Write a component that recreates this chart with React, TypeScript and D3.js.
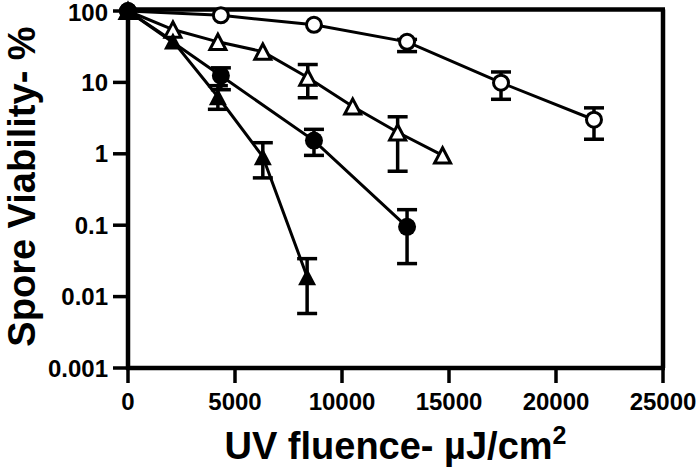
import React from "react";
import * as d3 from "d3";

// ---- data ----
const xTicks = [0, 5000, 10000, 15000, 20000, 25000];
const yTicks = [0.001, 0.01, 0.1, 1, 10, 100];
const yTickLabels = ["0.001", "0.01", "0.1", "1", "10", "100"];

const openCircleX = [0, 4340, 8690, 13040, 17430, 21775];
const openCircleY = [100, 87, 64, 37, 9.9, 3.0];
const openCircleLo = [null, null, null, 27, 5.8, 1.6];
const openCircleHi = [null, null, null, 40, 14, 4.4];

const filledCircleX = [0, 4340, 8690, 13040];
const filledCircleY = [100, 12.4, 1.53, 0.095];
const filledCircleLo = [null, 7.9, 0.95, 0.029];
const filledCircleHi = [null, 16, 2.2, 0.165];

const openTriX = [0, 2100, 4200, 6300, 8400, 10500, 12600, 14700];
const openTriY = [100, 55, 37, 27, 11.7, 4.6, 2.0, 0.95];
const openTriLo = [null, null, null, null, 6.1, null, 0.57, null];
const openTriHi = [null, null, null, null, 17.8, null, 3.3, null];

const filledTriX = [0, 2100, 4200, 6300, 8370];
const filledTriY = [100, 38, 6.3, 0.91, 0.019];
const filledTriLo = [null, null, 4.2, 0.46, 0.0058];
const filledTriHi = [null, null, 9, 1.43, 0.034];

type Series = {
  x: number[];
  y: number[];
  lo: (number | null)[];
  hi: (number | null)[];
  shape: "circle" | "triangle";
  filled: boolean;
};

const series: Series[] = [
  { x: openCircleX, y: openCircleY, lo: openCircleLo, hi: openCircleHi, shape: "circle", filled: false },
  { x: openTriX, y: openTriY, lo: openTriLo, hi: openTriHi, shape: "triangle", filled: false },
  { x: filledTriX, y: filledTriY, lo: filledTriLo, hi: filledTriHi, shape: "triangle", filled: true },
  { x: filledCircleX, y: filledCircleY, lo: filledCircleLo, hi: filledCircleHi, shape: "circle", filled: true },
];

const W = 700;
const H = 475;
const FONT = "'Liberation Sans', Arial, Helvetica, sans-serif";

export default function App() {
  const x = d3.scaleLinear().domain([0, 25000]).range([128, 663]);
  const y = d3.scaleLog().domain([0.001, 100]).range([368, 11]);
  const line = d3
    .line<[number, number]>()
    .x((d) => x(d[0]))
    .y((d) => y(d[1]));

  const triPath = (cx: number, cy: number, s: number) => {
    const h = s * 0.95;
    return `M${cx},${cy - h / 2}L${cx + s / 2},${cy + h / 2}L${cx - s / 2},${cy + h / 2}Z`;
  };

  return (
    <svg width={W} height={H} style={{ position: "absolute", left: 0, top: 0, background: "#fff" }}>
      {/* frame top & right */}
      <line x1={x(0)} x2={x(25000) + 2} y1={9.5} y2={9.5} stroke="#000" strokeWidth={4.5} />
      <line x1={x(25000)} x2={x(25000)} y1={9.5} y2={y(0.001)} stroke="#000" strokeWidth={4.5} />
      {/* axes */}
      <line x1={x(0)} x2={x(0)} y1={7.5} y2={y(0.001) + 2} stroke="#000" strokeWidth={4.5} />
      <line x1={x(0) - 2} x2={x(25000) + 2} y1={y(0.001)} y2={y(0.001)} stroke="#000" strokeWidth={4.5} />
      {/* y ticks */}
      {yTicks.map((t, i) => (
        <g key={"yt" + i}>
          <line x1={x(0) - 15} x2={x(0)} y1={y(t)} y2={y(t)} stroke="#000" strokeWidth={3.5} />
          <text
            x={108}
            y={Math.max(y(t) + 8.5, 21)}
            textAnchor="end"
            fontFamily={FONT}
            fontWeight="bold"
            fontSize={24}
          >
            {yTickLabels[i]}
          </text>
        </g>
      ))}
      {/* x ticks */}
      {xTicks.map((t, i) => (
        <g key={"xt" + i}>
          <line x1={x(t)} x2={x(t)} y1={y(0.001)} y2={y(0.001) + 15} stroke="#000" strokeWidth={3.5} />
          <text x={x(t)} y={410} textAnchor="middle" fontFamily={FONT} fontWeight="bold" fontSize={24}>
            {d3.format("d")(t)}
          </text>
        </g>
      ))}
      {/* axis titles */}
      <text
        x={(x(0) + x(25000)) / 2}
        y={459}
        textAnchor="middle"
        fontFamily={FONT}
        fontWeight="bold"
        fontSize={38}
      >
        UV fluence- µJ/cm
        <tspan dy={-15} fontSize={25}>
          2
        </tspan>
      </text>
      <text
        transform={`translate(35,${(y(100) + y(0.001)) / 2 - 3}) rotate(-90)`}
        textAnchor="middle"
        fontFamily={FONT}
        fontWeight="bold"
        fontSize={38}
      >
        Spore Viability- %
      </text>
      {/* lines */}
      {series.map((s, i) => (
        <path
          key={"l" + i}
          d={line(s.x.map((v, j) => [v, s.y[j]] as [number, number])) || ""}
          fill="none"
          stroke="#000"
          strokeWidth={3}
        />
      ))}
      {/* error bars */}
      {series.map((s, i) =>
        s.x.map((v, j) => {
          const lo = s.lo[j];
          const hi = s.hi[j];
          if (lo == null || hi == null) return null;
          const cx = x(v);
          return (
            <g key={`e${i}-${j}`} stroke="#000" strokeWidth={3.5}>
              <line x1={cx} x2={cx} y1={y(hi)} y2={y(lo)} />
              <line x1={cx - 10} x2={cx + 10} y1={y(hi)} y2={y(hi)} />
              <line x1={cx - 10} x2={cx + 10} y1={y(lo)} y2={y(lo)} />
            </g>
          );
        })
      )}
      {/* markers */}
      {series.map((s, i) =>
        s.x.map((v, j) => {
          const cx = x(v);
          const cy = y(s.y[j]);
          if (s.shape === "circle") {
            return s.filled ? (
              <circle key={`m${i}-${j}`} cx={cx} cy={cy} r={9} fill="#000" />
            ) : (
              <circle key={`m${i}-${j}`} cx={cx} cy={cy} r={7.5} fill="#fff" stroke="#000" strokeWidth={3} />
            );
          }
          return s.filled ? (
            <path key={`m${i}-${j}`} d={triPath(cx, cy, 18)} fill="#000" />
          ) : (
            <path
              key={`m${i}-${j}`}
              d={triPath(cx, cy, 16)}
              fill="#fff"
              stroke="#000"
              strokeWidth={3}
              strokeLinejoin="miter"
            />
          );
        })
      )}
    </svg>
  );
}
